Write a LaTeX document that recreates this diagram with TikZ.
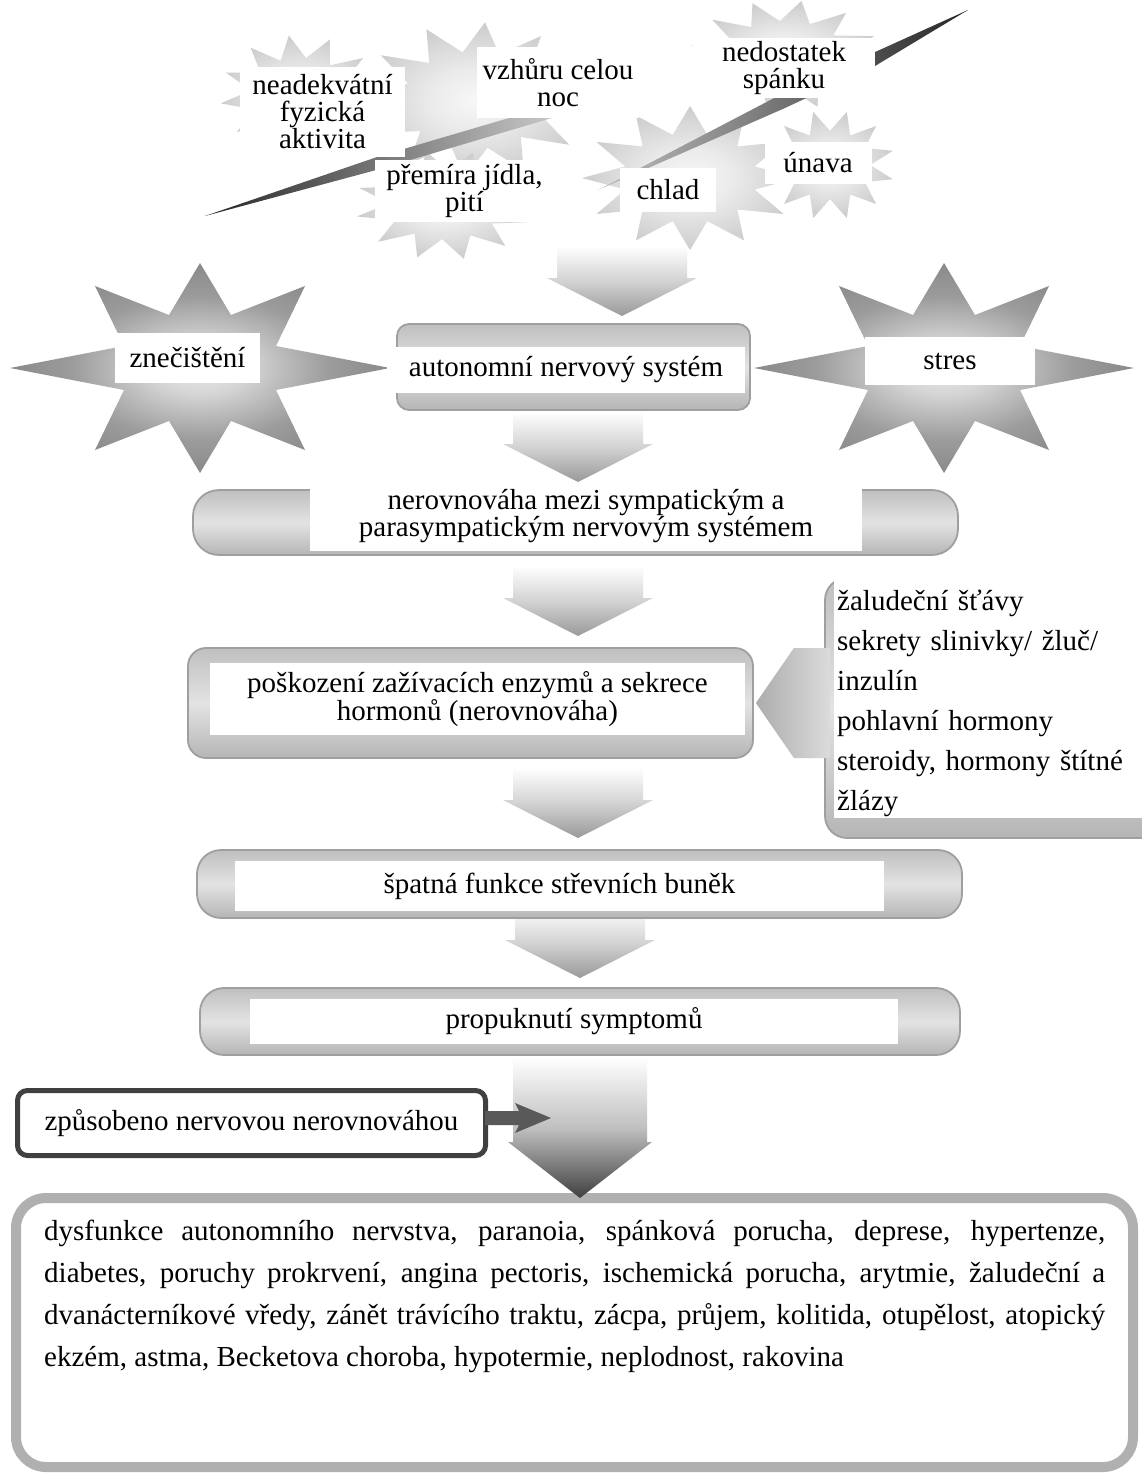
\documentclass[tikz,border=0pt]{standalone}
\usepackage{fontspec}
\setmainfont{Liberation Serif}
\usetikzlibrary{calc}
\pgfdeclareradialshading{starshade}{\pgfpoint{0bp}{0bp}}{color(0bp)=(gray!18); color(6bp)=(gray!32); color(17bp)=(gray!78); color(25bp)=(gray!92); color(50bp)=(gray!92)}
\pgfdeclareradialshading{burstshade}{\pgfpoint{0bp}{0bp}}{color(0bp)=(gray!6); color(10bp)=(gray!16); color(25bp)=(gray!40); color(50bp)=(gray!40)}
\tikzset{
  pics/bigstar/.style={code={\shade[shading=starshade] (190,0) -- (76,22) -- (105,82) -- (31,53) -- (0,105) -- (-31,53) -- (-105,82) -- (-76,22) -- (-190,0) -- (-76,-22) -- (-105,-82) -- (-31,-53) -- (0,-105) -- (31,-53) -- (105,-82) -- (76,-22) -- cycle;}},
  pics/burst/.style={code={\shade[shading=burstshade] (0:1) \foreach \a in {30,60,...,330} { -- (\a-15:0.62) -- (\a:1) } -- (345:0.62) -- cycle;}},
  pics/downarrow/.style={code={\shade[top color=white, bottom color=gray!80, middle color=gray!35] (-65,-70) -- (65,-70) -- (65,-38) -- (75,-38) -- (0,0) -- (-75,-38) -- (-65,-38) -- cycle;}},
  pics/bigdown/.style={code={\shade[top color=white, bottom color=black!75, middle color=gray!50] (-67,-140) -- (67,-140) -- (67,-56) -- (72,-56) -- (0,0) -- (-72,-56) -- (-67,-56) -- cycle;}},
  wbox/.style={fill=white, align=center},
  gbox/.style={draw=gray!75, line width=1.8pt, top color=gray!50, bottom color=gray!58, middle color=gray!22, rounded corners=#1},
  gbox/.default=20pt
}
\begin{document}
\begin{tikzpicture}[x=1pt,y=-1pt,
  every node/.style={inner sep=0pt, font=\fontsize{29pt}{27pt}\selectfont}]
\useasboundingbox (0,0) rectangle (1142,1477);
\fill[white] (0,0) rectangle (1142,1477);

% ---------- top cluster ----------
\pic[xscale=80,yscale=60,rotate=8] at (300,95) {burst};
\pic[xscale=115,yscale=78,rotate=-5] at (475,100) {burst};
\pic[xscale=90,yscale=55,rotate=12] at (445,205) {burst};
\pic[xscale=108,yscale=72] at (690,178) {burst};
\pic[xscale=95,yscale=55,rotate=-10] at (785,55) {burst};
\pic[xscale=65,yscale=55,rotate=15] at (830,165) {burst};

\shade[left color=black!85, right color=gray!40] (205,216) -- (380,156) -- (560,103) -- (562,115) -- (380,169) -- cycle;
\shade[left color=gray!50, right color=black!85] (598,190) -- (780,95) -- (968,10) -- (875,66) -- (785,108) -- cycle;

\node[wbox, minimum width=165pt, minimum height=90pt] (fyz) at (322.5,112) {neadekvátní\\fyzická\\aktivita};
\node[wbox, minimum width=162pt, minimum height=71pt] (noc) at (558,82.5) {vzhůru celou\\noc};
\node[wbox, minimum width=182pt, minimum height=60pt] (spanek) at (784,68) {nedostatek\\spánku};
\node[wbox, minimum width=179pt, minimum height=62pt] (jidlo) at (464.5,191) {přemíra jídla,\\pití};
\node[wbox, minimum width=96pt, minimum height=44pt] (chlad) at (668,190) {chlad};
\node[wbox, minimum width=107pt, minimum height=42pt] (unava) at (818,163) {únava};

% ---------- chevrons ----------
\pic at (622,316) {downarrow};
\pic at (578,482) {downarrow};
\pic at (578,636) {downarrow};
\pic at (578,838) {downarrow};
\pic at (580,978) {downarrow};

% ---------- stars ----------
\pic at (200,368) {bigstar};
\pic at (944,368) {bigstar};
\node[wbox, minimum width=145pt, minimum height=50pt] (znec) at (187.5,358) {znečištění};
\node[wbox, minimum width=170pt, minimum height=48pt] (stres) at (950,361) {stres};

% ---------- main boxes ----------
\node[gbox=12pt, minimum width=353pt, minimum height=86pt] (gA) at (573.5,367) {};
\node[wbox, minimum width=358pt, minimum height=46pt] (ans) at (566,370) {autonomní nervový systém};

\node[gbox=26pt, minimum width=765pt, minimum height=65pt] (gN) at (575.5,522.5) {};
\node[wbox, minimum width=552pt, minimum height=69pt] (nerov) at (586,516.5) {nerovnováha mezi sympatickým a\\parasympatickým nervovým systémem};

\node[gbox=18pt, minimum width=565pt, minimum height=110pt] (gP) at (470.5,703) {};
\node[wbox, minimum width=535pt, minimum height=72pt] (posk) at (477.5,699) {poškození zažívacích enzymů a sekrece\\hormonů (nerovnováha)};

% list on the right
\node[gbox=22pt, minimum width=340pt, minimum height=260pt] (gL) at (995,708) {};
\shade[left color=gray!65, right color=gray!28] ($(gP.east)+(2,0)$) -- ($(gP.east)+(40,-55)$) -- ($(gL.west |- gP.east)+(6,-55)$) -- ($(gL.west |- gP.east)+(6,55)$) -- ($(gP.east)+(40,55)$) -- cycle;
\node[fill=white, minimum width=310pt, minimum height=245pt] (wL) at (989,695.5) {};
\node[anchor=base west, text width=300pt, align=left, font=\fontsize{29pt}{40pt}\selectfont] (list) at (837,610) {žaludeční šťávy\\sekrety slinivky/ žluč/\\inzulín\\pohlavní hormony\\steroidy, hormony štítné\\žlázy};

\node[gbox=24pt, minimum width=765pt, minimum height=68pt] (gS) at (579.5,884) {};
\node[wbox, minimum width=649pt, minimum height=50pt] (strev) at (559.5,886) {špatná funkce střevních buněk};

\node[gbox=24pt, minimum width=760pt, minimum height=67pt] (gR) at (580,1021.5) {};
\node[wbox, minimum width=648pt, minimum height=45pt] (sympt) at (574,1021) {propuknutí symptomů};

% ---------- bottom ----------
\node[draw=gray!62, line width=10pt, fill=white, rounded corners=30pt, minimum width=1117pt, minimum height=269pt] (symbox) at (574.5,1332.5) {};
\node[anchor=base west, text width=1061pt, align=justify, font=\fontsize{29pt}{42pt}\selectfont] (symtext) at (44,1240) {dysfunkce autonomního nervstva, paranoia, spánková porucha, deprese, hypertenze,\linebreak diabetes, poruchy prokrvení, angina pectoris, ischemická porucha, arytmie, žaludeční a\linebreak dvanácterníkové vředy, zánět trávícího traktu, zácpa, průjem, kolitida, otupělost, atopický\linebreak ekzém, astma, Becketova choroba, hypotermie, neplodnost, rakovina};

\pic at (580,1198) {bigdown};
\coordinate (bigin) at (551,1118);

\node[draw=black!75, line width=5pt, fill=white, rounded corners=10pt, minimum width=468pt, minimum height=65pt] (zp) at (251.5,1123) {způsobeno nervovou nerovnováhou};
\fill[black!65] ($(zp.east |- bigin)+(-3,-7)$) -- ($(bigin)+(-32,-7)$) -- ($(bigin)+(-36,-15)$) -- (bigin) -- ($(bigin)+(-36,15)$) -- ($(bigin)+(-32,7)$) -- ($(zp.east |- bigin)+(-3,7)$) -- cycle;
\end{tikzpicture}
\end{document}
